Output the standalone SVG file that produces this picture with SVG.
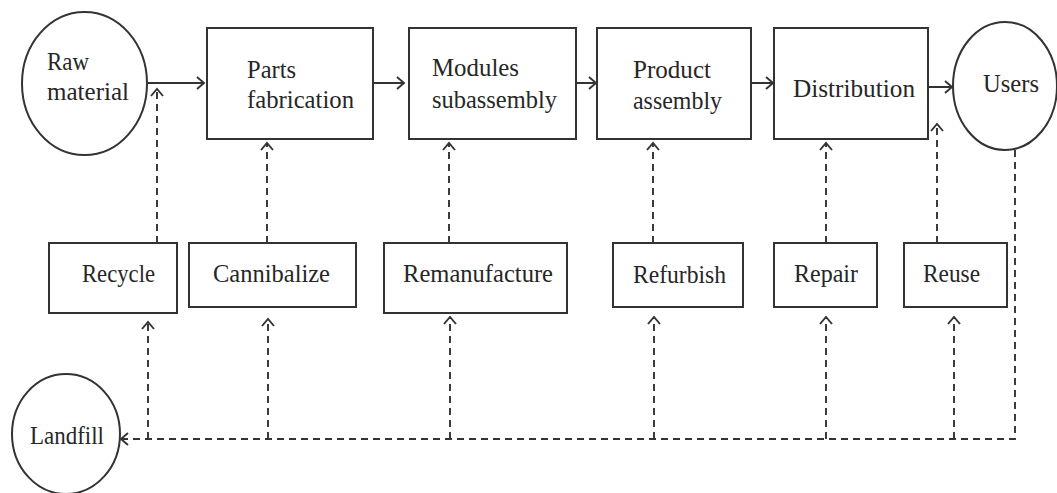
<svg xmlns="http://www.w3.org/2000/svg" width="1057" height="493" viewBox="0 0 1057 493">
<style>
.box{fill:#fff;stroke:#333;stroke-width:2}
.t{font-family:"Liberation Serif","Times New Roman",serif;font-size:24.5px;fill:#262626}
.solid{fill:none;stroke:#333;stroke-width:2}
.dash{fill:none;stroke:#333;stroke-width:1.9;stroke-dasharray:7 5}
</style>
<defs>
<marker id="ah" markerUnits="userSpaceOnUse" markerWidth="12" markerHeight="14" refX="8" refY="6" orient="auto" overflow="visible">
<path d="M1,0 L8,6 L1,12" fill="none" stroke="#333" stroke-width="1.9" stroke-dasharray="none"/>
</marker>
</defs>
<rect width="1057" height="493" fill="#fff"/>
<g id="connectors">
<path class="solid" d="M148,83 H204" marker-end="url(#ah)"/>
<path class="solid" d="M373,83 H404" marker-end="url(#ah)"/>
<path class="solid" d="M576,83 H596" marker-end="url(#ah)"/>
<path class="solid" d="M751,83 H773" marker-end="url(#ah)"/>
<path class="solid" d="M928,87 H952" marker-end="url(#ah)"/>
<path class="dash" d="M157,243 V89" marker-end="url(#ah)"/>
<path class="dash" d="M267,243 V143" marker-end="url(#ah)"/>
<path class="dash" d="M449,243 V143" marker-end="url(#ah)"/>
<path class="dash" d="M653,243 V143" marker-end="url(#ah)"/>
<path class="dash" d="M826,243 V143" marker-end="url(#ah)"/>
<path class="dash" d="M937,243 V124" marker-end="url(#ah)"/>
<path class="dash" d="M148,439 V322" marker-end="url(#ah)"/>
<path class="dash" d="M268,439 V319" marker-end="url(#ah)"/>
<path class="dash" d="M450,439 V317" marker-end="url(#ah)"/>
<path class="dash" d="M654,439 V317" marker-end="url(#ah)"/>
<path class="dash" d="M826,439 V317" marker-end="url(#ah)"/>
<path class="dash" d="M954,439 V317" marker-end="url(#ah)"/>
<path class="dash" d="M1015,150 V439 H121" marker-end="url(#ah)"/>
</g>
<g id="raw-material">
<ellipse class="box" cx="84.5" cy="83.5" rx="62.5" ry="71.5"/>
<text class="t" x="47" y="70" textLength="42" lengthAdjust="spacingAndGlyphs">Raw</text>
<text class="t" x="47" y="100" textLength="82" lengthAdjust="spacingAndGlyphs">material</text>
</g>
<g id="parts-fabrication">
<rect class="box" x="207" y="28" width="166" height="111"/>
<text class="t" x="247" y="78" textLength="49" lengthAdjust="spacingAndGlyphs">Parts</text>
<text class="t" x="247" y="108" textLength="107" lengthAdjust="spacingAndGlyphs">fabrication</text>
</g>
<g id="modules-subassembly">
<rect class="box" x="409" y="28" width="167" height="111"/>
<text class="t" x="432" y="76" textLength="87" lengthAdjust="spacingAndGlyphs">Modules</text>
<text class="t" x="432" y="108" textLength="125" lengthAdjust="spacingAndGlyphs">subassembly</text>
</g>
<g id="product-assembly">
<rect class="box" x="597" y="28" width="154" height="111"/>
<text class="t" x="633" y="78" textLength="78" lengthAdjust="spacingAndGlyphs">Product</text>
<text class="t" x="633" y="109" textLength="89" lengthAdjust="spacingAndGlyphs">assembly</text>
</g>
<g id="distribution">
<rect class="box" x="774" y="28" width="154" height="111"/>
<text class="t" x="793" y="97" textLength="122" lengthAdjust="spacingAndGlyphs">Distribution</text>
</g>
<g id="users">
<ellipse class="box" cx="1005" cy="86" rx="52" ry="64"/>
<text class="t" x="983" y="92" textLength="56" lengthAdjust="spacingAndGlyphs">Users</text>
</g>
<g id="recycle">
<rect class="box" x="49" y="243" width="128" height="70"/>
<text class="t" x="82" y="282" textLength="73" lengthAdjust="spacingAndGlyphs">Recycle</text>
</g>
<g id="cannibalize">
<rect class="box" x="189" y="243" width="167" height="64"/>
<text class="t" x="213" y="282" textLength="117" lengthAdjust="spacingAndGlyphs">Cannibalize</text>
</g>
<g id="remanufacture">
<rect class="box" x="384" y="243" width="183" height="70"/>
<text class="t" x="403" y="282" textLength="150" lengthAdjust="spacingAndGlyphs">Remanufacture</text>
</g>
<g id="refurbish">
<rect class="box" x="613" y="243" width="130" height="64"/>
<text class="t" x="633" y="283" textLength="93" lengthAdjust="spacingAndGlyphs">Refurbish</text>
</g>
<g id="repair">
<rect class="box" x="774" y="243" width="103" height="64"/>
<text class="t" x="794" y="282" textLength="64" lengthAdjust="spacingAndGlyphs">Repair</text>
</g>
<g id="reuse">
<rect class="box" x="904" y="243" width="103" height="64"/>
<text class="t" x="923" y="282" textLength="57" lengthAdjust="spacingAndGlyphs">Reuse</text>
</g>
<g id="landfill">
<ellipse class="box" cx="66" cy="434" rx="54" ry="60"/>
<text class="t" x="30" y="444" textLength="74" lengthAdjust="spacingAndGlyphs">Landfill</text>
</g>
</svg>
